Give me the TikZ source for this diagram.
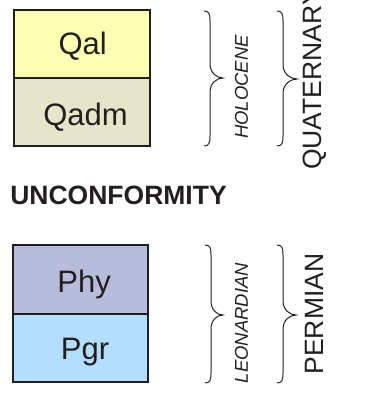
\documentclass[tikz,border=0pt]{standalone}
\usepackage{fontspec}
\setmainfont{Liberation Sans}
\definecolor{edge}{HTML}{231F20}
\definecolor{qalc}{HTML}{FFFFB3}
\definecolor{qadmc}{HTML}{E5E5CA}
\definecolor{phyc}{HTML}{B7BCDA}
\definecolor{pgrc}{HTML}{B3DEFF}
\newcommand{\gbrace}[5]{% xl, yt, yb, ym, xt
  \draw[bracestyle] (#1,#2) .. controls ({#1+5},#2) and ({#1+6},{#2+3}) .. ({#1+6},{#2+10})
    -- ({#1+6},{#4-14}) .. controls ({#1+6},{#4-5}) and ({#5-6},#4) .. (#5,#4)
    .. controls ({#5-6},#4) and ({#1+6},{#4+5}) .. ({#1+6},{#4+14})
    -- ({#1+6},{#3-10}) .. controls ({#1+6},{#3-3}) and ({#1+5},#3) .. (#1,#3);}
\begin{document}
\begin{tikzpicture}[x=1pt,y=-1pt,
  unitbox/.style={draw=edge,line width=2pt},
  unitlabel/.style={font=\fontsize{31}{31}\selectfont,text=edge,anchor=base,inner sep=0pt},
  bracestyle/.style={draw=edge,line width=1pt},
  epochlabel/.style={font=\fontsize{18.5}{18.5}\selectfont\itshape,text=edge,rotate=90,inner sep=0pt},
  periodlabel/.style={font=\fontsize{26.5}{26.5}\selectfont,text=edge,rotate=90,inner sep=0pt}]
\clip (0,0) rectangle (369,393);
\useasboundingbox (0,0) rectangle (369,393);
% boxes
\filldraw[unitbox,fill=qalc] (13.5,10) rectangle (149.5,78);
\filldraw[unitbox,fill=qadmc] (13.5,78) rectangle (149.5,146);
\filldraw[unitbox,fill=phyc] (13,245) rectangle (148,314);
\filldraw[unitbox,fill=pgrc] (13,314) rectangle (148,382);
\node[unitlabel] (qal) at (82.7,55) {Qal};
\node[unitlabel] (qadm) at (85.5,125) {Qadm};
\node[unitlabel] (phy) at (84.2,292.3) {Phy};
\node[unitlabel] (pgr) at (85,359) {Pgr};
% unconformity
\node[font=\fontsize{26.5}{26.5}\selectfont\bfseries,text=edge,inner sep=0pt] (unc) at (118.5,195) {UNCONFORMITY};
% braces
\gbrace{204}{11}{146}{78}{223}
\gbrace{277}{11}{146}{79}{297}
\gbrace{205}{245}{383}{315}{223}
\gbrace{277}{245}{383}{315}{296}
% labels
\node[epochlabel] (holo) at (241.5,87) {HOLOCENE};
\node[epochlabel] (leon) at (241.5,323) {LEONARDIAN};
\node[periodlabel] (quat) at (314.5,79) {QUATERNARY};
\node[periodlabel] (perm) at (314.5,314) {PERMIAN};
\end{tikzpicture}
\end{document}
